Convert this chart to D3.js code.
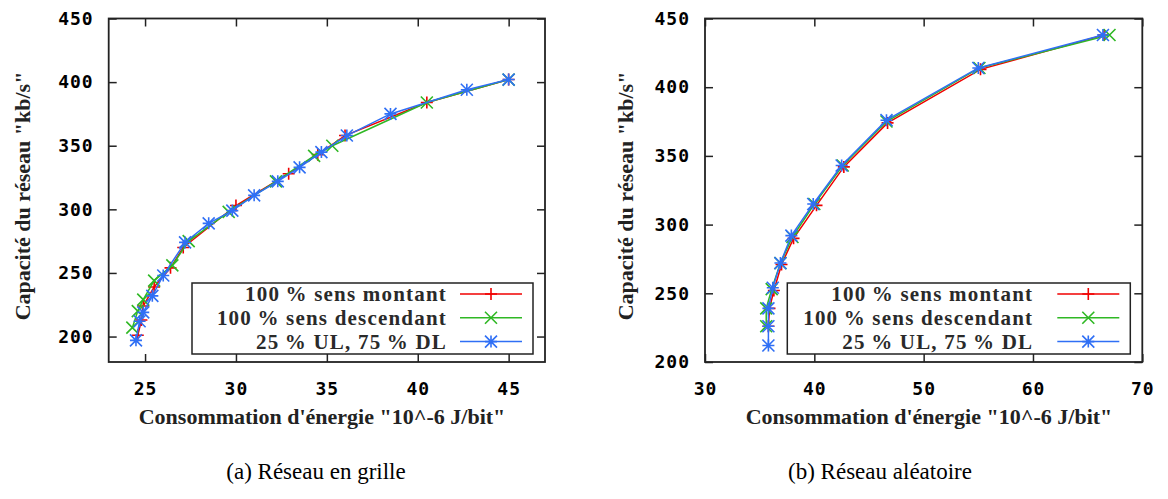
<!DOCTYPE html>
<html>
<head>
<meta charset="utf-8">
<script src="https://cdn.jsdelivr.net/npm/d3@7"></script>
<style>
  body { margin: 0; background: #fff; }
</style>
</head>
<body>
<div id="chart"></div>
<script>
// legend names + colours
const seriesNames = ["100\u2009% sens montant", "100\u2009% sens descendant", "25\u2009% UL, 75\u2009% DL"];
const seriesColors = ["#f00000", "#2fb824", "#2f6ff5"];
const seriesMarks = ["plus", "cross", "star"];

// (a) grid network : [energy, capacity]
const gridUp = [[24.6,201],[24.8,213],[24.9,224],[25.5,239],[26.4,254],[27.1,270],[30.0,303],[32.9,328],[34.5,343],[36.0,358],[40.5,384],[45.0,402]];
const gridDown = [[24.3,207],[24.6,220],[24.9,229],[25.5,244],[26.5,256],[27.4,275],[29.6,298],[32.2,322],[34.3,342],[35.3,350],[40.5,384],[45.0,402]];
const gridMixed = [[24.5,197],[24.7,212],[24.9,219],[25.4,232],[26.0,248],[27.2,274],[28.5,289],[29.8,299],[31.0,311],[32.3,322],[33.5,333],[34.7,345],[36.1,358],[38.5,375],[42.7,394],[45.0,402]];

// (b) random network
const randUp = [[35.8,226],[35.9,239],[36.3,252],[37.0,271],[38.1,290],[40.2,314],[42.7,342],[46.7,374],[55.2,413],[66.5,438]];
const randDown = [[35.6,226],[35.6,239],[36.1,253],[36.9,272],[38.0,291],[40.0,315],[42.6,343],[46.6,375],[55.1,414],[67.0,438]];
const randMixed = [[35.8,212],[35.8,226],[35.8,239],[36.2,254],[36.9,272],[37.9,292],[39.9,315],[42.5,343],[46.6,376],[55.0,414],[66.4,438]];

const gridXTicks = [25, 30, 35, 40, 45];
const randXTicks = [30, 40, 50, 60, 70];
const yTicks = [200, 250, 300, 350, 400, 450];

const xLabel = "Consommation d'énergie \"10^-6 J/bit\"";
const yLabel = "Capacité du réseau \"kb/s\"";

const serif = "'Liberation Serif', 'Times New Roman', Times, 'DejaVu Serif', serif";
const mono = "'DejaVu Sans Mono', 'Liberation Mono', monospace";

const svg = d3.select("#chart").append("svg")
    .attr("width", 1168)
    .attr("height", 499);

function marker(g, type, x, y, color) {
    let s = 6;
    let p = "";
    if (type === "plus" || type === "star") p += "M" + (x - s) + "," + y + "h" + 2 * s + "M" + x + "," + (y - s) + "v" + 2 * s;
    if (type === "cross" || type === "star") p += "M" + (x - s) + "," + (y - s) + "l" + 2 * s + "," + 2 * s + "M" + (x - s) + "," + (y + s) + "l" + 2 * s + "," + (-2 * s);
    g.append("path").attr("d", p).attr("stroke", color).attr("stroke-width", 1.6).attr("fill", "none");
}

function drawPanel(opt) {
    let x = d3.scaleLinear().domain(opt.xDomain).range([opt.left, opt.right]);
    let y = d3.scaleLinear().domain(opt.yDomain).range([362, 18.5]);
    let g = svg.append("g");

    // axes with inward ticks, mirrored
    g.append("g").attr("transform", "translate(0,362)")
        .call(d3.axisBottom(x).tickValues(opt.xTicks).tickSizeInner(-8).tickSizeOuter(0))
        .call(a => a.selectAll("text").attr("y", 20));
    g.append("g").attr("transform", "translate(" + opt.left + ",0)")
        .call(d3.axisLeft(y).tickValues(yTicks).tickSizeInner(-8).tickSizeOuter(0))
        .call(a => a.selectAll("text").attr("x", -15));
    g.append("g").attr("transform", "translate(0,18.5)")
        .call(d3.axisTop(x).tickValues(opt.xTicks).tickSizeInner(-8).tickSizeOuter(0))
        .call(a => a.selectAll("text").remove());
    g.append("g").attr("transform", "translate(" + opt.right + ",0)")
        .call(d3.axisRight(y).tickValues(yTicks).tickSizeInner(-8).tickSizeOuter(0))
        .call(a => a.selectAll("text").remove());
    g.selectAll(".domain").remove();
    g.selectAll(".tick line").attr("stroke", "#222").attr("stroke-width", 1.5);
    g.selectAll(".tick text")
        .style("font-family", mono).style("font-weight", "bold")
        .style("font-size", "18px").style("letter-spacing", "1px")
        .attr("fill", "#000");
    g.append("rect")
        .attr("x", opt.left).attr("y", 18.5)
        .attr("width", opt.right - opt.left).attr("height", 362 - 18.5)
        .attr("fill", "none").attr("stroke", "#222").attr("stroke-width", 1.8);

    // legend box
    let lg = g.append("g");
    lg.append("rect")
        .attr("x", opt.right - opt.legLeft).attr("y", 283)
        .attr("width", opt.legLeft - 12).attr("height", 71)
        .attr("fill", "#fff").attr("stroke", "#222").attr("stroke-width", 1.5);

    let line = d3.line().x(d => x(d[0])).y(d => y(d[1]));
    opt.series.forEach((data, i) => {
        g.append("path").datum(data)
            .attr("d", line)
            .attr("fill", "none")
            .attr("stroke", seriesColors[i])
            .attr("stroke-width", 1.5);
        data.forEach(d => marker(g, seriesMarks[i], x(d[0]), y(d[1]), seriesColors[i]));

        let ly = 294 + i * 23.8;
        lg.append("text")
            .attr("x", opt.right - opt.textEnd).attr("y", ly)
            .attr("dy", "0.35em")
            .attr("text-anchor", "end")
            .style("font-family", serif).style("font-weight", "bold")
            .style("font-size", "21px").style("letter-spacing", "1.2px")
            .attr("fill", "#2a2a2a")
            .text(seriesNames[i]);
        lg.append("line")
            .attr("x1", opt.right - 85).attr("x2", opt.right - 23)
            .attr("y1", ly).attr("y2", ly)
            .attr("stroke", seriesColors[i]).attr("stroke-width", 1.5);
        marker(lg, seriesMarks[i], opt.right - 54, ly, seriesColors[i]);
    });

    // axis titles
    g.append("text")
        .attr("x", opt.xLabelX).attr("y", 416)
        .attr("dy", "0.35em").attr("text-anchor", "middle")
        .style("font-family", serif).style("font-weight", "bold")
        .style("font-size", "22px").attr("fill", "#222")
        .text(xLabel);
    g.append("text")
        .attr("transform", "translate(" + opt.yLabelX + ",196) rotate(-90)")
        .attr("dy", "0.35em").attr("text-anchor", "middle")
        .style("font-family", serif).style("font-weight", "bold")
        .style("font-size", "22px").attr("fill", "#222")
        .text(yLabel);

    g.append("text")
        .attr("x", opt.capX).attr("y", 471)
        .attr("dy", "0.35em").attr("text-anchor", "middle")
        .style("font-family", serif).style("font-size", "23px")
        .attr("fill", "#000")
        .text(opt.caption);
}

drawPanel({
    xDomain: [23, 47], yDomain: [180, 450],
    left: 108.7, right: 545,
    xTicks: gridXTicks,
    series: [gridUp, gridDown, gridMixed],
    legLeft: 353, textEnd: 98,
    yLabelX: 22, xLabelX: 322, capX: 316,
    caption: "(a) Réseau en grille"
});

drawPanel({
    xDomain: [30, 70], yDomain: [200, 450],
    left: 705, right: 1142.3,
    xTicks: randXTicks,
    series: [randUp, randDown, randMixed],
    legLeft: 355, textEnd: 109,
    yLabelX: 625, xLabelX: 929, capX: 880,
    caption: "(b) Réseau aléatoire"
});
</script>
</body>
</html>
